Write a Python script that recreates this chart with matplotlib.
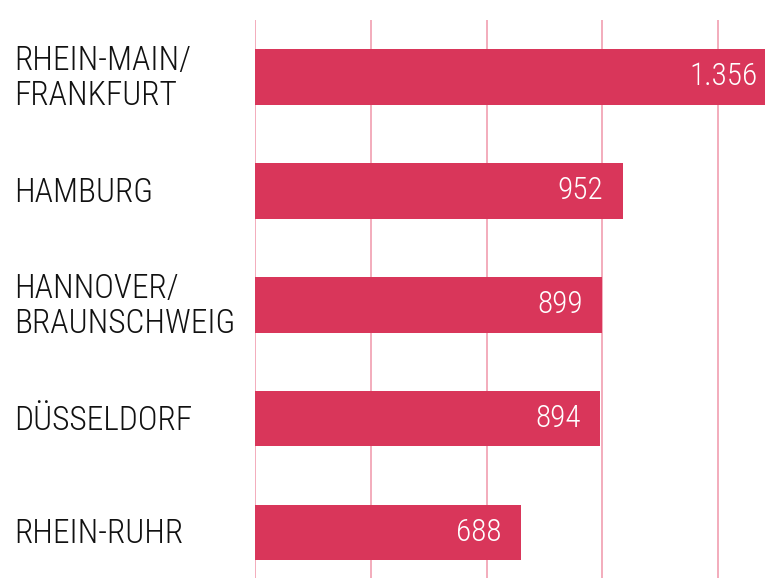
import matplotlib
matplotlib.use("Agg")
import matplotlib.pyplot as plt
from matplotlib import font_manager as fm

regions = ["RHEIN-MAIN/\nFRANKFURT", "HAMBURG", "HANNOVER/\nBRAUNSCHWEIG", "DÜSSELDORF", "RHEIN-RUHR"]
values = [1356, 952, 899, 894, 688]
value_labels = ["1.356", "952", "899", "894", "688"]
grid_ticks = [0, 300, 600, 900, 1200]

names = {f.name for f in fm.fontManager.ttflist}
family = [f for f in ["Roboto Condensed", "Liberation Sans Narrow", "Roboto", "DejaVu Sans"] if f in names]
plt.rcParams["font.family"] = family

BAR = "#d9365a"
GRID = "#f2a6b6"

fig = plt.figure(figsize=(7.65, 5.78), dpi=100)
ax = fig.add_axes([255 / 765, 0, 1 - 255 / 765, 1 - 20 / 578])

y = list(range(len(regions)))
ax.barh(y, values, height=0.49, color=BAR, zorder=2)
ax.set_xlim(0, 1321)
ax.set_ylim(4.40, -0.5)

for g in grid_ticks:
    ax.axvline(g, color=GRID, lw=1.3, zorder=1)

for yi, v, lab in zip(y, values, value_labels):
    xv = min(v, 1321)
    ax.annotate(lab, (xv, yi), xytext=(-5 if v > 1321 else -14, 0), textcoords="offset points",
                ha="right", va="center", color="white", fontsize=22.5, fontweight="light", zorder=3)

for yi, name in zip(y, regions):
    ax.annotate(name, (0, yi), xycoords=("figure pixels", "data"), xytext=(14, -2),
                textcoords="offset pixels", ha="left", va="center", fontsize=24,
                fontweight="light", color="#111111", linespacing=1.12, annotation_clip=False)

ax.set_xticks([])
ax.set_yticks([])
for s in ax.spines.values():
    s.set_visible(False)

fig.savefig("out.png", dpi=100)
